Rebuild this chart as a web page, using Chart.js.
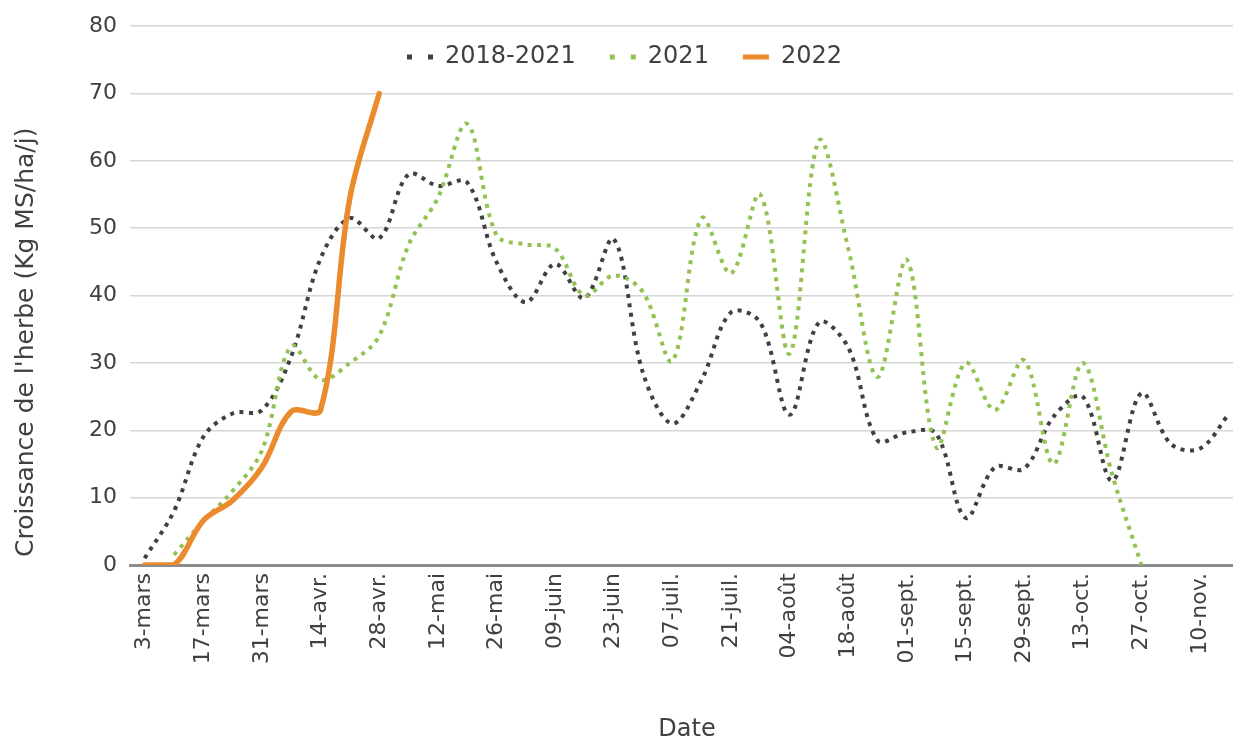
<!DOCTYPE html>
<html lang="fr">
<head>
<meta charset="utf-8">
<title>Croissance de l'herbe</title>
<script src="https://cdn.jsdelivr.net/npm/chart.js@4.4.1/dist/chart.umd.min.js"></script>
<style>
    html, body { margin: 0; padding: 0; background: #fff; overflow: hidden; }
    /* un peu plus large que la fenêtre : le graphique d'origine est coupé à droite */
    #cadre { position: relative; width: 1244px; height: 740px; }
</style>
</head>
<body>
<div id="cadre"><canvas id="croissance"></canvas></div>
<script>
// Relevés hebdomadaires (une étiquette sur deux affichée sur l'axe)
const semaines = [
    '3-mars', '10-mars', '17-mars', '24-mars', '31-mars', '07-avr.', '14-avr.', '21-avr.',
    '28-avr.', '05-mai', '12-mai', '19-mai', '26-mai', '02-juin', '09-juin', '16-juin',
    '23-juin', '30-juin', '07-juil.', '14-juil.', '21-juil.', '28-juil.', '04-août', '11-août',
    '18-août', '25-août', '01-sept.', '08-sept.', '15-sept.', '22-sept.', '29-sept.', '06-oct.',
    '13-oct.', '20-oct.', '27-oct.', '03-nov.', '10-nov.', '17-nov.'
];

// Croissance (Kg MS/ha/j)
const moyenne2018_2021 = [
    1, 8, 19, 22.5, 23, 31, 45.5, 51.5, 48.5, 58,
    56.3, 56.8, 45, 39, 44.7, 39.6, 48.4, 28.5, 21, 27.5,
    37.5, 36, 22.3, 36, 32.3, 18.5, 19.7, 19.5, 7, 14.5,
    14.3, 22, 25, 12.5, 25.5, 18, 17.3, 22.5
];
const annee2021 = [
    null, 1.5, 6.5, 11, 17, 32.5, 27.5, 30, 34, 47.5,
    54.5, 65.5, 49, 47.6, 47, 40, 43, 40.5, 30.3, 51.5,
    43.3, 55, 31.4, 63, 47, 27.9, 45.3, 17.5, 30, 23,
    30.4, 15, 30, 13.5, 0, null, null, null
];
const annee2022 = [0, 0, 6.6, 9.6, 14.5, 22.8, 23, 54.5, 70];

const series = ['2018-2021', '2021', '2022'];
const couleurs = ['#404040', '#93c152', '#ec8a2e'];

const yMin = 0;
const yMax = 80;
const yPas = 10;

const police = 'DejaVu Sans, Verdana, sans-serif';
const texte = '#404040';

// La légende est posée dans la zone de tracé, centrée sur l'image entière
const placementLegende = {
    id: 'placementLegende',
    afterLayout(chart) {
        const lg = chart.legend;
        if (!lg) return;
        lg.left = 8;
        lg.right = 1241;
        lg.top = 11;
        lg.bottom = lg.top + lg.height;
    }
};

const ctx = document.getElementById('croissance');

new Chart(ctx, {
    type: 'line',
    data: {
        labels: semaines,
        datasets: [{
            label: series[0],
            data: moyenne2018_2021,
            borderColor: couleurs[0],
            borderWidth: 4,
            borderDash: [4, 5.5],
            order: 3
        }, {
            label: series[1],
            data: annee2021,
            borderColor: couleurs[1],
            borderWidth: 4,
            borderDash: [4, 5.5],
            order: 2
        }, {
            label: series[2],
            data: annee2022,
            borderColor: couleurs[2],
            borderWidth: 5.5,
            borderCapStyle: 'round',
            order: 1
        }]
    },
    options: {
        responsive: true,
        maintainAspectRatio: false,
        animation: false,
        // la légende (68 px) ne doit pas repousser la zone de tracé
        layout: { padding: { top: -42, right: 0, bottom: 0, left: 0 } },
        elements: {
            point: { radius: 0, hoverRadius: 0 },
            line: { tension: 0.35, fill: false }
        },
        plugins: {
            tooltip: { enabled: false },
            legend: {
                position: 'top',
                align: 'center',
                labels: {
                    usePointStyle: true,
                    pointStyleWidth: 26,
                    padding: 34,
                    color: texte,
                    font: { family: police, size: 24 },
                    generateLabels: function(chart) {
                        return chart.data.datasets.map((ds, i) => ({
                            text: ds.label,
                            fillStyle: ds.borderColor,
                            strokeStyle: ds.borderColor,
                            fontColor: texte,
                            lineWidth: 5,
                            lineDash: ds.borderDash ? [5, 16] : [],
                            lineCap: 'butt',
                            pointStyle: 'line',
                            hidden: false,
                            datasetIndex: i
                        }));
                    }
                }
            }
        },
        scales: {
            x: {
                offset: true,
                grid: { display: false, drawTicks: false },
                border: { display: true, color: '#8c8c8c', width: 3 },
                ticks: {
                    autoSkip: false,
                    minRotation: 90,
                    maxRotation: 90,
                    padding: 8,
                    color: texte,
                    font: { family: police, size: 22 },
                    callback: function(value, index) {
                        return index % 2 === 0 ? semaines[index] : '';
                    }
                },
                title: {
                    display: true,
                    text: 'Date',
                    color: texte,
                    font: { family: police, size: 24 },
                    padding: { top: 0, bottom: -4 }
                },
                afterFit: function(scale) {
                    scale.height = 175;
                    scale.paddingLeft = 0;
                    scale.paddingRight = 0;
                }
            },
            y: {
                min: yMin,
                max: yMax,
                grid: { color: '#d6d6d6', lineWidth: 1.5, drawTicks: false },
                border: { display: false },
                ticks: {
                    stepSize: yPas,
                    padding: 13,
                    color: texte,
                    font: { family: police, size: 22 }
                },
                title: {
                    display: true,
                    align: 'start',
                    text: " Croissance de l'herbe (Kg MS/ha/j)",
                    color: texte,
                    font: { family: police, size: 25 },
                    padding: { top: 11, bottom: 0 }
                },
                afterFit: function(scale) { scale.width = 130; }
            }
        }
    },
    plugins: [placementLegende]
});
</script>
</body>
</html>
